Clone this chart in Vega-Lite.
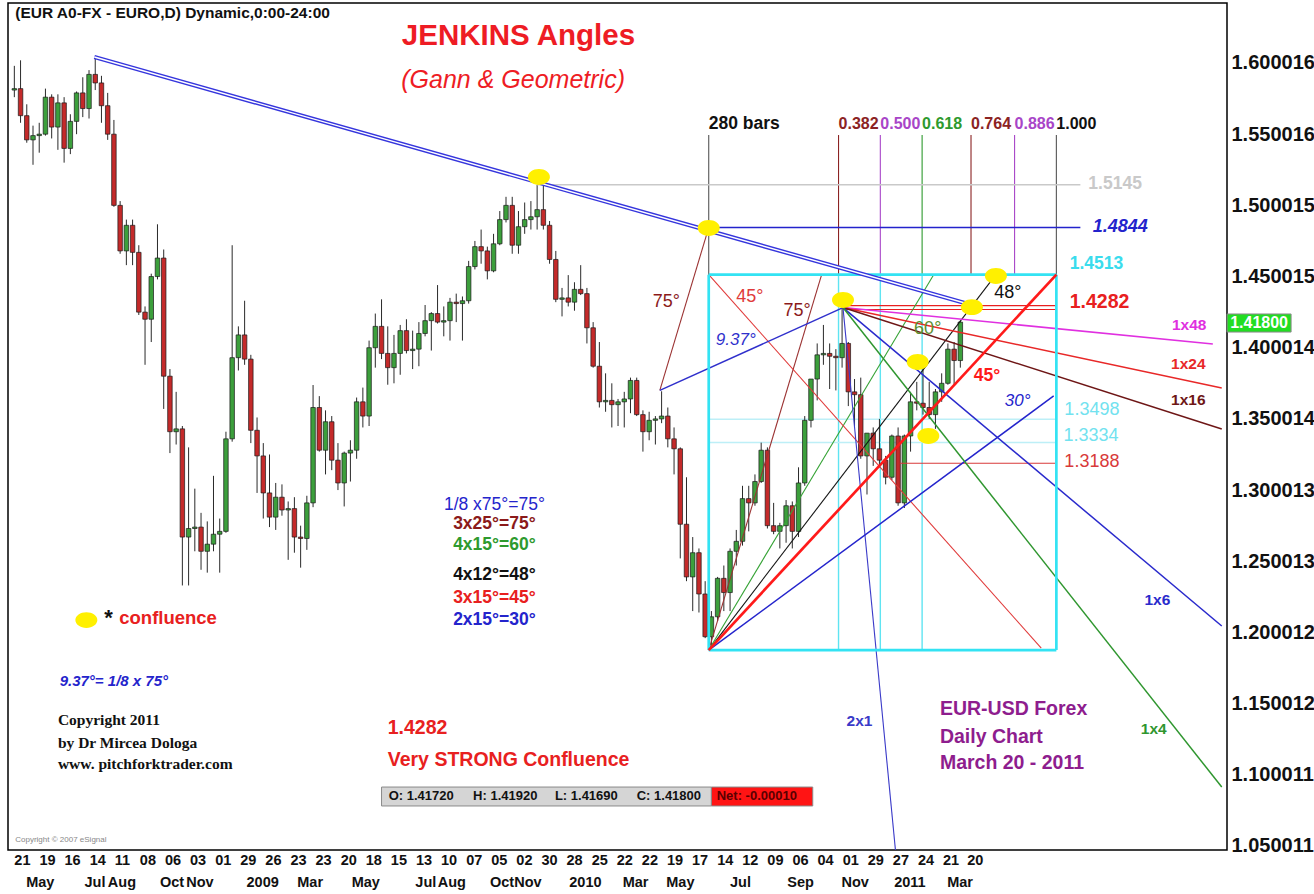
{
  "$schema": "https://vega.github.io/schema/vega-lite/v6.json",
  "width": 1219,
  "height": 847,
  "autosize": {"type": "none"},
  "padding": {"left": 8, "top": 3, "right": 87, "bottom": 44},
  "background": "white",
  "config": {
    "font": "Liberation Sans",
    "view": {"stroke": "#000000", "strokeWidth": 1.5}
  },
  "datasets": {
    "candles": [
      {"d":"2008-04-16","o":1.5810,"h":1.5980,"l":1.5760,"c":1.5820},
      {"d":"2008-04-23","o":1.5820,"h":1.6019,"l":1.5580,"c":1.5630},
      {"d":"2008-04-30","o":1.5630,"h":1.5710,"l":1.5440,"c":1.5460},
      {"d":"2008-05-07","o":1.5460,"h":1.5560,"l":1.5285,"c":1.5490},
      {"d":"2008-05-14","o":1.5490,"h":1.5580,"l":1.5370,"c":1.5500},
      {"d":"2008-05-21","o":1.5500,"h":1.5820,"l":1.5490,"c":1.5760},
      {"d":"2008-05-28","o":1.5760,"h":1.5780,"l":1.5470,"c":1.5550},
      {"d":"2008-06-04","o":1.5550,"h":1.5780,"l":1.5390,"c":1.5720},
      {"d":"2008-06-11","o":1.5720,"h":1.5760,"l":1.5300,"c":1.5400},
      {"d":"2008-06-18","o":1.5400,"h":1.5640,"l":1.5360,"c":1.5590},
      {"d":"2008-06-25","o":1.5590,"h":1.5800,"l":1.5500,"c":1.5790},
      {"d":"2008-07-02","o":1.5790,"h":1.5900,"l":1.5620,"c":1.5680},
      {"d":"2008-07-09","o":1.5680,"h":1.5950,"l":1.5610,"c":1.5920},
      {"d":"2008-07-16","o":1.5920,"h":1.6038,"l":1.5810,"c":1.5860},
      {"d":"2008-07-23","o":1.5860,"h":1.5910,"l":1.5580,"c":1.5700},
      {"d":"2008-07-30","o":1.5700,"h":1.5790,"l":1.5460,"c":1.5500},
      {"d":"2008-08-06","o":1.5500,"h":1.5600,"l":1.4990,"c":1.5000},
      {"d":"2008-08-13","o":1.5000,"h":1.5030,"l":1.4660,"c":1.4680},
      {"d":"2008-08-20","o":1.4680,"h":1.4900,"l":1.4580,"c":1.4860},
      {"d":"2008-08-27","o":1.4860,"h":1.4900,"l":1.4580,"c":1.4670},
      {"d":"2008-09-03","o":1.4670,"h":1.4720,"l":1.4230,"c":1.4250},
      {"d":"2008-09-10","o":1.4250,"h":1.4290,"l":1.3880,"c":1.4200},
      {"d":"2008-09-17","o":1.4200,"h":1.4520,"l":1.4040,"c":1.4500},
      {"d":"2008-09-24","o":1.4500,"h":1.4867,"l":1.4480,"c":1.4630},
      {"d":"2008-10-01","o":1.4630,"h":1.4690,"l":1.3570,"c":1.3800},
      {"d":"2008-10-08","o":1.3800,"h":1.3850,"l":1.3260,"c":1.3410},
      {"d":"2008-10-15","o":1.3410,"h":1.3690,"l":1.3320,"c":1.3430},
      {"d":"2008-10-22","o":1.3430,"h":1.3450,"l":1.2330,"c":1.2670},
      {"d":"2008-10-29","o":1.2670,"h":1.3300,"l":1.2330,"c":1.2730},
      {"d":"2008-11-05","o":1.2730,"h":1.3010,"l":1.2570,"c":1.2740},
      {"d":"2008-11-12","o":1.2740,"h":1.2840,"l":1.2440,"c":1.2570},
      {"d":"2008-11-19","o":1.2570,"h":1.2780,"l":1.2420,"c":1.2620},
      {"d":"2008-11-26","o":1.2620,"h":1.3100,"l":1.2570,"c":1.2690},
      {"d":"2008-12-03","o":1.2690,"h":1.2800,"l":1.2420,"c":1.2710},
      {"d":"2008-12-10","o":1.2710,"h":1.3410,"l":1.2700,"c":1.3360},
      {"d":"2008-12-17","o":1.3360,"h":1.4720,"l":1.3340,"c":1.3930},
      {"d":"2008-12-24","o":1.3930,"h":1.4150,"l":1.3840,"c":1.4090},
      {"d":"2008-12-31","o":1.4090,"h":1.4330,"l":1.3880,"c":1.3920},
      {"d":"2009-01-07","o":1.3920,"h":1.3950,"l":1.3330,"c":1.3420},
      {"d":"2009-01-14","o":1.3420,"h":1.3510,"l":1.2980,"c":1.3240},
      {"d":"2009-01-21","o":1.3240,"h":1.3330,"l":1.2800,"c":1.2980},
      {"d":"2009-01-28","o":1.2980,"h":1.3250,"l":1.2740,"c":1.2810},
      {"d":"2009-02-04","o":1.2810,"h":1.3050,"l":1.2720,"c":1.2950},
      {"d":"2009-02-11","o":1.2950,"h":1.3040,"l":1.2820,"c":1.2860},
      {"d":"2009-02-18","o":1.2860,"h":1.2920,"l":1.2510,"c":1.2870},
      {"d":"2009-02-25","o":1.2870,"h":1.2950,"l":1.2560,"c":1.2670},
      {"d":"2009-03-04","o":1.2670,"h":1.2750,"l":1.2455,"c":1.2660},
      {"d":"2009-03-11","o":1.2660,"h":1.2960,"l":1.2580,"c":1.2910},
      {"d":"2009-03-18","o":1.2910,"h":1.3738,"l":1.2880,"c":1.3580},
      {"d":"2009-03-25","o":1.3580,"h":1.3660,"l":1.3270,"c":1.3280},
      {"d":"2009-04-01","o":1.3280,"h":1.3560,"l":1.3110,"c":1.3480},
      {"d":"2009-04-08","o":1.3480,"h":1.3520,"l":1.3140,"c":1.3210},
      {"d":"2009-04-15","o":1.3210,"h":1.3330,"l":1.3000,"c":1.3050},
      {"d":"2009-04-22","o":1.3050,"h":1.3270,"l":1.2885,"c":1.3260},
      {"d":"2009-04-29","o":1.3260,"h":1.3350,"l":1.3060,"c":1.3280},
      {"d":"2009-05-06","o":1.3280,"h":1.3650,"l":1.3220,"c":1.3620},
      {"d":"2009-05-13","o":1.3620,"h":1.3720,"l":1.3440,"c":1.3520},
      {"d":"2009-05-20","o":1.3520,"h":1.4050,"l":1.3450,"c":1.4000},
      {"d":"2009-05-27","o":1.4000,"h":1.4240,"l":1.3860,"c":1.4150},
      {"d":"2009-06-03","o":1.4150,"h":1.4340,"l":1.3920,"c":1.3960},
      {"d":"2009-06-10","o":1.3960,"h":1.4150,"l":1.3740,"c":1.3860},
      {"d":"2009-06-17","o":1.3860,"h":1.4090,"l":1.3750,"c":1.3960},
      {"d":"2009-06-24","o":1.3960,"h":1.4160,"l":1.3810,"c":1.4120},
      {"d":"2009-07-01","o":1.4120,"h":1.4200,"l":1.3960,"c":1.3980},
      {"d":"2009-07-08","o":1.3980,"h":1.4120,"l":1.3850,"c":1.3990},
      {"d":"2009-07-15","o":1.3990,"h":1.4180,"l":1.3870,"c":1.4100},
      {"d":"2009-07-22","o":1.4100,"h":1.4300,"l":1.4080,"c":1.4190},
      {"d":"2009-07-29","o":1.4190,"h":1.4250,"l":1.3980,"c":1.4240},
      {"d":"2009-08-05","o":1.4240,"h":1.4440,"l":1.4170,"c":1.4180},
      {"d":"2009-08-12","o":1.4180,"h":1.4290,"l":1.4080,"c":1.4190},
      {"d":"2009-08-19","o":1.4190,"h":1.4350,"l":1.4050,"c":1.4320},
      {"d":"2009-08-26","o":1.4320,"h":1.4380,"l":1.4180,"c":1.4310},
      {"d":"2009-09-02","o":1.4310,"h":1.4360,"l":1.4050,"c":1.4330},
      {"d":"2009-09-09","o":1.4330,"h":1.4610,"l":1.4310,"c":1.4570},
      {"d":"2009-09-16","o":1.4570,"h":1.4750,"l":1.4550,"c":1.4710},
      {"d":"2009-09-23","o":1.4710,"h":1.4830,"l":1.4590,"c":1.4680},
      {"d":"2009-09-30","o":1.4680,"h":1.4710,"l":1.4480,"c":1.4540},
      {"d":"2009-10-07","o":1.4540,"h":1.4800,"l":1.4530,"c":1.4730},
      {"d":"2009-10-14","o":1.4730,"h":1.4960,"l":1.4720,"c":1.4900},
      {"d":"2009-10-21","o":1.4900,"h":1.5060,"l":1.4880,"c":1.5000},
      {"d":"2009-10-28","o":1.5000,"h":1.5060,"l":1.4660,"c":1.4720},
      {"d":"2009-11-04","o":1.4720,"h":1.4960,"l":1.4660,"c":1.4850},
      {"d":"2009-11-11","o":1.4850,"h":1.5020,"l":1.4800,"c":1.4900},
      {"d":"2009-11-18","o":1.4900,"h":1.5030,"l":1.4830,"c":1.4920},
      {"d":"2009-11-25","o":1.4920,"h":1.5144,"l":1.4830,"c":1.4970},
      {"d":"2009-12-02","o":1.4970,"h":1.5140,"l":1.4830,"c":1.4860},
      {"d":"2009-12-09","o":1.4860,"h":1.4890,"l":1.4590,"c":1.4620},
      {"d":"2009-12-16","o":1.4620,"h":1.4680,"l":1.4320,"c":1.4340},
      {"d":"2009-12-23","o":1.4340,"h":1.4420,"l":1.4220,"c":1.4350},
      {"d":"2009-12-30","o":1.4350,"h":1.4510,"l":1.4290,"c":1.4320},
      {"d":"2010-01-06","o":1.4320,"h":1.4460,"l":1.4260,"c":1.4410},
      {"d":"2010-01-13","o":1.4410,"h":1.4580,"l":1.4370,"c":1.4380},
      {"d":"2010-01-20","o":1.4380,"h":1.4420,"l":1.4030,"c":1.4140},
      {"d":"2010-01-27","o":1.4140,"h":1.4180,"l":1.3860,"c":1.3870},
      {"d":"2010-02-03","o":1.3870,"h":1.4040,"l":1.3580,"c":1.3620},
      {"d":"2010-02-10","o":1.3620,"h":1.3820,"l":1.3550,"c":1.3630},
      {"d":"2010-02-17","o":1.3630,"h":1.3750,"l":1.3440,"c":1.3600},
      {"d":"2010-02-24","o":1.3600,"h":1.3640,"l":1.3450,"c":1.3620},
      {"d":"2010-03-03","o":1.3620,"h":1.3690,"l":1.3440,"c":1.3640},
      {"d":"2010-03-10","o":1.3640,"h":1.3790,"l":1.3540,"c":1.3770},
      {"d":"2010-03-17","o":1.3770,"h":1.3790,"l":1.3520,"c":1.3530},
      {"d":"2010-03-24","o":1.3530,"h":1.3560,"l":1.3270,"c":1.3410},
      {"d":"2010-03-31","o":1.3410,"h":1.3550,"l":1.3350,"c":1.3490},
      {"d":"2010-04-07","o":1.3490,"h":1.3520,"l":1.3320,"c":1.3500},
      {"d":"2010-04-14","o":1.3500,"h":1.3694,"l":1.3470,"c":1.3520},
      {"d":"2010-04-21","o":1.3520,"h":1.3580,"l":1.3300,"c":1.3360},
      {"d":"2010-04-28","o":1.3360,"h":1.3440,"l":1.3110,"c":1.3290},
      {"d":"2010-05-05","o":1.3290,"h":1.3300,"l":1.2520,"c":1.2760},
      {"d":"2010-05-12","o":1.2760,"h":1.3090,"l":1.2360,"c":1.2390},
      {"d":"2010-05-19","o":1.2390,"h":1.2670,"l":1.2150,"c":1.2560},
      {"d":"2010-05-26","o":1.2560,"h":1.2590,"l":1.2140,"c":1.2270},
      {"d":"2010-06-02","o":1.2270,"h":1.2360,"l":1.1960,"c":1.1970},
      {"d":"2010-06-09","o":1.1970,"h":1.2150,"l":1.1876,"c":1.2110},
      {"d":"2010-06-16","o":1.2110,"h":1.2390,"l":1.2080,"c":1.2380},
      {"d":"2010-06-23","o":1.2380,"h":1.2470,"l":1.2150,"c":1.2280},
      {"d":"2010-06-30","o":1.2280,"h":1.2590,"l":1.2150,"c":1.2570},
      {"d":"2010-07-07","o":1.2570,"h":1.2720,"l":1.2470,"c":1.2640},
      {"d":"2010-07-14","o":1.2640,"h":1.3030,"l":1.2610,"c":1.2940},
      {"d":"2010-07-21","o":1.2940,"h":1.3030,"l":1.2710,"c":1.2910},
      {"d":"2010-07-28","o":1.2910,"h":1.3110,"l":1.2890,"c":1.3060},
      {"d":"2010-08-04","o":1.3060,"h":1.3333,"l":1.3050,"c":1.3280},
      {"d":"2010-08-11","o":1.3280,"h":1.3300,"l":1.2730,"c":1.2750},
      {"d":"2010-08-18","o":1.2750,"h":1.2910,"l":1.2690,"c":1.2710},
      {"d":"2010-08-25","o":1.2710,"h":1.2770,"l":1.2590,"c":1.2750},
      {"d":"2010-09-01","o":1.2750,"h":1.2930,"l":1.2630,"c":1.2890},
      {"d":"2010-09-08","o":1.2890,"h":1.2920,"l":1.2590,"c":1.2710},
      {"d":"2010-09-15","o":1.2710,"h":1.3160,"l":1.2670,"c":1.3050},
      {"d":"2010-09-22","o":1.3050,"h":1.3520,"l":1.3030,"c":1.3490},
      {"d":"2010-09-29","o":1.3490,"h":1.3780,"l":1.3440,"c":1.3780},
      {"d":"2010-10-06","o":1.3780,"h":1.4030,"l":1.3630,"c":1.3950},
      {"d":"2010-10-13","o":1.3950,"h":1.4160,"l":1.3880,"c":1.3960},
      {"d":"2010-10-20","o":1.3960,"h":1.4030,"l":1.3710,"c":1.3940},
      {"d":"2010-10-27","o":1.3940,"h":1.3990,"l":1.3700,"c":1.3930},
      {"d":"2010-11-03","o":1.3930,"h":1.4282,"l":1.3860,"c":1.4030},
      {"d":"2010-11-10","o":1.4030,"h":1.4040,"l":1.3590,"c":1.3690},
      {"d":"2010-11-17","o":1.3690,"h":1.3780,"l":1.3450,"c":1.3670},
      {"d":"2010-11-24","o":1.3670,"h":1.3790,"l":1.3220,"c":1.3240},
      {"d":"2010-12-01","o":1.3240,"h":1.3400,"l":1.2969,"c":1.3400},
      {"d":"2010-12-08","o":1.3400,"h":1.3440,"l":1.3170,"c":1.3290},
      {"d":"2010-12-15","o":1.3290,"h":1.3500,"l":1.3160,"c":1.3210},
      {"d":"2010-12-22","o":1.3210,"h":1.3240,"l":1.3040,"c":1.3090},
      {"d":"2010-12-29","o":1.3090,"h":1.3390,"l":1.3070,"c":1.3380},
      {"d":"2011-01-05","o":1.3380,"h":1.3440,"l":1.2890,"c":1.2910},
      {"d":"2011-01-12","o":1.2910,"h":1.3390,"l":1.2874,"c":1.3380},
      {"d":"2011-01-19","o":1.3380,"h":1.3690,"l":1.3270,"c":1.3620},
      {"d":"2011-01-26","o":1.3620,"h":1.3760,"l":1.3560,"c":1.3610},
      {"d":"2011-02-02","o":1.3610,"h":1.3860,"l":1.3530,"c":1.3580},
      {"d":"2011-02-09","o":1.3580,"h":1.3760,"l":1.3500,"c":1.3530},
      {"d":"2011-02-16","o":1.3530,"h":1.3710,"l":1.3430,"c":1.3690},
      {"d":"2011-02-23","o":1.3690,"h":1.3820,"l":1.3620,"c":1.3750},
      {"d":"2011-03-02","o":1.3750,"h":1.4030,"l":1.3740,"c":1.3990},
      {"d":"2011-03-09","o":1.3990,"h":1.4040,"l":1.3740,"c":1.3910},
      {"d":"2011-03-16","o":1.3910,"h":1.4190,"l":1.3860,"c":1.4180}
    ],
    "rulesUnder": [
      {"d":"2010-10-30","p":1.1876,"d2":"2010-10-30","p2":1.4513,"k":"boxfib"},
      {"d":"2010-12-16","p":1.1876,"d2":"2010-12-16","p2":1.4513,"k":"boxfib"},
      {"d":"2011-02-01","p":1.1876,"d2":"2011-02-01","p2":1.4513,"k":"boxfib"},
      {"d":"2010-06-06","p":1.3498,"d2":"2011-07-02","p2":1.3498,"k":"lvlcyan"},
      {"d":"2010-06-06","p":1.3334,"d2":"2011-07-02","p2":1.3334,"k":"lvlcyan"}
    ],
    "rulesThin": [
      {"d":"2010-06-06","p":1.5494,"d2":"2010-06-06","p2":1.4513,"k":"bars280"},
      {"d":"2010-10-30","p":1.5494,"d2":"2010-10-30","p2":1.4513,"k":"fib382"},
      {"d":"2010-12-16","p":1.5494,"d2":"2010-12-16","p2":1.4513,"k":"fib500"},
      {"d":"2011-02-01","p":1.5494,"d2":"2011-02-01","p2":1.4513,"k":"fib618"},
      {"d":"2011-03-28","p":1.5494,"d2":"2011-03-28","p2":1.4513,"k":"fib764"},
      {"d":"2011-05-16","p":1.5494,"d2":"2011-05-16","p2":1.4513,"k":"fib886"},
      {"d":"2011-07-02","p":1.5494,"d2":"2011-07-02","p2":1.4513,"k":"fib1000"},
      {"d":"2010-11-04","p":1.4296,"d2":"2011-07-02","p2":1.4296,"k":"lvl4282"},
      {"d":"2010-11-04","p":1.4268,"d2":"2011-07-02","p2":1.4268,"k":"lvl4282"},
      {"d":"2011-01-07","p":1.3188,"d2":"2011-07-02","p2":1.3188,"k":"lvl3188"},
      {"d":"2010-06-06","p":1.1876,"d2":"2011-04-25","p2":1.4513,"k":"a48"},
      {"d":"2010-06-06","p":1.1876,"d2":"2011-02-14","p2":1.4513,"k":"a60"},
      {"d":"2010-06-06","p":1.1876,"d2":"2010-10-11","p2":1.4513,"k":"a75"},
      {"d":"2010-06-06","p":1.4513,"d2":"2011-06-15","p2":1.1890,"k":"d45"},
      {"d":"2010-04-12","p":1.3700,"d2":"2010-06-06","p2":1.4844,"k":"a75"},
      {"d":"2010-11-04","p":1.4282,"d2":"2011-01-02","p2":1.04717,"k":"g2x1"}
    ],
    "rulesMed": [
      {"d":"2009-11-25","p":1.5145,"d2":"2011-07-29","p2":1.5145,"k":"lvl5145"},
      {"d":"2010-06-06","p":1.4844,"d2":"2011-07-29","p2":1.4844,"k":"lvl4844"},
      {"d":"2010-06-06","p":1.1876,"d2":"2011-06-29","p2":1.3661,"k":"a30"},
      {"d":"2010-04-12","p":1.3700,"d2":"2010-11-04","p2":1.4282,"k":"a937"},
      {"d":"2010-11-04","p":1.4282,"d2":"2011-12-25","p2":1.4026,"k":"g1x48"},
      {"d":"2010-11-04","p":1.4282,"d2":"2012-01-04","p2":1.3717,"k":"g1x24"},
      {"d":"2010-11-04","p":1.4282,"d2":"2012-01-04","p2":1.3429,"k":"g1x16"},
      {"d":"2010-11-04","p":1.4282,"d2":"2012-01-04","p2":1.2045,"k":"g1x6"},
      {"d":"2010-11-04","p":1.4282,"d2":"2012-01-04","p2":1.0914,"k":"g1x4"}
    ],
    "rulesThick": [
      {"d":"2010-06-06","p":1.1876,"d2":"2011-07-02","p2":1.1876,"k":"box"},
      {"d":"2010-06-06","p":1.4513,"d2":"2011-07-02","p2":1.4513,"k":"box"},
      {"d":"2010-06-06","p":1.1876,"d2":"2010-06-06","p2":1.4513,"k":"box"},
      {"d":"2011-07-02","p":1.1876,"d2":"2011-07-02","p2":1.4513,"k":"box"},
      {"d":"2010-06-06","p":1.1876,"d2":"2011-07-02","p2":1.4513,"k":"a45"}
    ],
    "trend": [
      {"d":"2008-07-15","p":1.6042,"d2":"2011-03-29","p2":1.4300,"k":"trend"}
    ],
    "dots": [
      {"d":"2009-11-27","p":1.5199},
      {"d":"2010-06-06","p":1.4841},
      {"d":"2010-11-04","p":1.4335},
      {"d":"2011-03-29","p":1.4285},
      {"d":"2011-04-25","p":1.4504},
      {"d":"2011-01-27","p":1.3900},
      {"d":"2011-02-08","p":1.3380},
      {"d":"2008-07-06","p":1.2087}
    ],
    "rects": [
      {"d":"2009-06-03","d2":"2010-06-09","p":1.0914,"p2":1.0781,"k":"ohlcBar"},
      {"d":"2010-06-09","d2":"2010-10-01","p":1.0914,"p2":1.0781,"k":"netBar"},
      {"d":"2012-01-10","d2":"2012-03-22","p":1.4237,"p2":1.4110,"k":"priceTag"}
    ],
    "txHeader": [
      {"d":"2008-04-17","p":1.6351,"t":"(EUR A0-FX - EURO,D) Dynamic,0:00-24:00","k":"header"}
    ],
    "txTitle": [
      {"d":"2009-11-04","p":1.6190,"t":"JENKINS Angles","k":"title"}
    ],
    "txSub": [
      {"d":"2009-10-29","p":1.5881,"t":"(Gann & Geometric)","k":"title"}
    ],
    "txFib": [
      {"d":"2010-10-30","p":1.5572,"t":"0.382","k":"fib382"},
      {"d":"2010-12-16","p":1.5572,"t":"0.500","k":"fib500"},
      {"d":"2011-02-01","p":1.5572,"t":"0.618","k":"fib618"},
      {"d":"2011-03-28","p":1.5572,"t":"0.764","k":"fib764"},
      {"d":"2011-05-16","p":1.5572,"t":"0.886","k":"fib886"},
      {"d":"2011-07-02","p":1.5572,"t":"1.000","k":"header"}
    ],
    "txB17": [
      {"d":"2010-06-06","p":1.5572,"t":"280 bars","k":"header"},
      {"d":"2011-08-07","p":1.5147,"t":"1.5145","k":"lvl5145"},
      {"d":"2011-07-17","p":1.4588,"t":"1.4513","k":"labelCyan"},
      {"d":"2011-03-31","p":1.3801,"t":"45°","k":"a45"}
    ],
    "txBI18": [
      {"d":"2011-08-12","p":1.4850,"t":"1.4844","k":"lvl4844"}
    ],
    "txB19": [
      {"d":"2011-07-17","p":1.4321,"t":"1.4282","k":"lvl4282"},
      {"d":"2009-06-10","p":1.1329,"t":"1.4282","k":"lvl4282"},
      {"d":"2009-06-10","p":1.1104,"t":"Very STRONG Confluence","k":"lvl4282"},
      {"d":"2011-02-21","p":1.1459,"t":"EUR-USD Forex","k":"purple"},
      {"d":"2011-02-21","p":1.1265,"t":"Daily Chart","k":"purple"},
      {"d":"2011-02-21","p":1.1083,"t":"March 20 - 2011","k":"purple"}
    ],
    "txB15": [
      {"d":"2011-11-09","p":1.4160,"t":"1x48","k":"g1x48"},
      {"d":"2011-11-08","p":1.3889,"t":"1x24","k":"g1x24"},
      {"d":"2011-11-08","p":1.3633,"t":"1x16","k":"g1x16"},
      {"d":"2011-10-09","p":1.2228,"t":"1x6","k":"g1x6"},
      {"d":"2011-10-05","p":1.1322,"t":"1x4","k":"g1x4"},
      {"d":"2010-11-08","p":1.1378,"t":"2x1","k":"g2x1"}
    ],
    "txN18": [
      {"d":"2011-07-11","p":1.3566,"t":"1.3498","k":"labelCyanLight"},
      {"d":"2011-07-10","p":1.3383,"t":"1.3334","k":"labelCyanLight"},
      {"d":"2011-07-11","p":1.3194,"t":"1.3188","k":"lvl3188"},
      {"d":"2011-04-23","p":1.4384,"t":"48°","k":"header"},
      {"d":"2011-01-23","p":1.4131,"t":"60°","k":"labelOlive"},
      {"d":"2010-04-04","p":1.4321,"t":"75°","k":"labelBrown"},
      {"d":"2010-08-29","p":1.4258,"t":"75°","k":"labelBrown"},
      {"d":"2010-07-07","p":1.4356,"t":"45°","k":"d45"}
    ],
    "txI17": [
      {"d":"2011-05-05","p":1.3626,"t":"30°","k":"a30"},
      {"d":"2010-06-14","p":1.4054,"t":"9.37°","k":"a937"}
    ],
    "txConf": [
      {"d":"2008-08-12","p":1.2101,"t":"confluence","k":"lvl4282"}
    ],
    "txStar": [
      {"d":"2008-07-26","p":1.2101,"t":"*","k":"header"}
    ],
    "txBI15": [
      {"d":"2008-06-06","p":1.1659,"t":"9.37°= 1/8 x 75°","k":"a30"}
    ],
    "txSerif": [
      {"d":"2008-06-04","p":1.1385,"t":"Copyright 2011","k":"header"},
      {"d":"2008-06-04","p":1.1223,"t":"by Dr Mircea Dologa","k":"header"},
      {"d":"2008-06-04","p":1.1076,"t":"www. pitchforktrader.com","k":"header"}
    ],
    "txListN": [
      {"d":"2009-10-08","p":1.2895,"t":"1/8 x75°=75°","k":"a30"}
    ],
    "txListB": [
      {"d":"2009-10-08","p":1.2762,"t":"3x25°=75°","k":"labelBrown"},
      {"d":"2009-10-08","p":1.2614,"t":"4x15°=60°","k":"fib618"},
      {"d":"2009-10-08","p":1.2404,"t":"4x12°=48°","k":"header"},
      {"d":"2009-10-08","p":1.2242,"t":"3x15°=45°","k":"lvl4282"},
      {"d":"2009-10-08","p":1.2087,"t":"2x15°=30°","k":"a30"}
    ],
    "txOhlc": [
      {"d":"2009-06-11","p":1.0851,"t":"O: 1.41720","k":"header"},
      {"d":"2009-09-14","p":1.0851,"t":"H: 1.41920","k":"header"},
      {"d":"2009-12-15","p":1.0851,"t":"L: 1.41690","k":"header"},
      {"d":"2010-03-17","p":1.0851,"t":"C: 1.41800","k":"header"},
      {"d":"2010-06-15","p":1.0851,"t":"Net: -0.00010","k":"netText"}
    ],
    "txTiny": [
      {"d":"2008-04-17","p":1.0542,"t":"Copyright © 2007 eSignal","k":"labelGray2"}
    ],
    "txTag": [
      {"d":"2012-02-15","p":1.4173,"t":"1.41800","k":"white"}
    ]
  },
  "resolve": {"scale": {"x": "independent"}, "axis": {"x": "independent"}},
  "layer": [
    {
      "layer": [
        {
          "data": {"name": "rulesUnder"},
          "mark": {"type": "rule", "strokeWidth": 1.4, "clip": true},
          "encoding": {
            "x": {
              "field": "d", "type": "temporal",
              "scale": {"type": "utc", "domain": [{"year":2008,"month":4,"date":14,"hours":12,"utc":true},{"year":2012,"month":1,"date":4,"hours":7,"utc":true}]},
              "axis": {"orient": "bottom", "title": null, "domain": false, "ticks": false, "grid": false, "labels": false}
            },
            "x2": {"field": "d2"},
            "y": {
              "field": "p", "type": "quantitative",
              "scale": {"domain": [1.04717, 1.64215], "nice": false, "zero": false},
              "axis": {
                "orient": "right", "title": null, "domain": false, "ticks": false, "grid": false,
                "values": [1.050011,1.100011,1.150012,1.200012,1.250013,1.300013,1.350014,1.400014,1.450015,1.500015,1.550016,1.600016],
                "format": ".6f", "labelFontSize": 20, "labelFontWeight": "bold", "labelColor": "#111111",
                "labelFont": "Liberation Sans", "labelPadding": 4,
                "labelFlush": false, "labelOverlap": false, "labelBound": false
              }
            },
            "y2": {"field": "p2"},
            "color": {
              "field": "k", "type": "nominal", "legend": null,
              "scale": {
                "domain": ["trend","lvl5145","lvl4844","bars280","fib382","fib500","fib618","fib764","fib886","fib1000","box","boxfib","lvlcyan","lvl4282","lvl3188","a45","a48","a60","a30","a75","d45","a937","g1x48","g1x24","g1x16","g1x6","g1x4","g2x1","header","title","labelCyan","labelCyanLight","labelOlive","labelBrown","purple","netText","white","labelGray2","ohlcBar","netBar","priceTag"],
                "range": ["#3535dd","#c9c9c9","#2323cc","#555555","#8b2323","#a845c8","#2e9a2e","#8b2323","#a845c8","#555555","#33e3f3","#5fe4f2","#bdeff7","#e82020","#d83a3a","#ff1a1a","#151515","#36a336","#2424cc","#9b3333","#e03a3a","#3030cc","#e030e0","#e82828","#6e1616","#2a2acc","#2f962f","#3a3ac8","#111111","#ee1c24","#3adced","#72e2ef","#5d8f2f","#8b1a1a","#8e1d8e","#5a0000","#ffffff","#888888","#d5d5d5","#ff1414","#22dd22"]
              }
            }
          }
        },
        {
          "data": {"name": "candles"},
          "mark": {"type": "rule", "color": "#2a2a2a", "strokeWidth": 1, "clip": true},
          "encoding": {
            "x": {"field": "d", "type": "temporal"},
            "y": {"field": "l", "type": "quantitative"},
            "y2": {"field": "h"}
          }
        },
        {
          "data": {"name": "candles"},
          "mark": {"type": "bar", "width": 4.5, "stroke": "#1a1a1a", "strokeWidth": 0.7, "clip": true},
          "encoding": {
            "x": {"field": "d", "type": "temporal"},
            "y": {"field": "o", "type": "quantitative"},
            "y2": {"field": "c"},
            "color": {"condition": {"test": "datum.o < datum.c", "value": "#3c9f3c"}, "value": "#c42a2a"}
          }
        },
        {
          "data": {"name": "rulesThin"},
          "mark": {"type": "rule", "strokeWidth": 1.1, "clip": true},
          "encoding": {
            "x": {"field": "d", "type": "temporal"}, "x2": {"field": "d2"},
            "y": {"field": "p", "type": "quantitative"}, "y2": {"field": "p2"},
            "color": {"field": "k", "type": "nominal", "legend": null}
          }
        },
        {
          "data": {"name": "rulesMed"},
          "mark": {"type": "rule", "strokeWidth": 1.5, "clip": true},
          "encoding": {
            "x": {"field": "d", "type": "temporal"}, "x2": {"field": "d2"},
            "y": {"field": "p", "type": "quantitative"}, "y2": {"field": "p2"},
            "color": {"field": "k", "type": "nominal", "legend": null}
          }
        },
        {
          "data": {"name": "rulesThick"},
          "mark": {"type": "rule", "strokeWidth": 2.7, "clip": true},
          "encoding": {
            "x": {"field": "d", "type": "temporal"}, "x2": {"field": "d2"},
            "y": {"field": "p", "type": "quantitative"}, "y2": {"field": "p2"},
            "color": {"field": "k", "type": "nominal", "legend": null}
          }
        },
        {
          "data": {"name": "trend"},
          "mark": {"type": "rule", "strokeWidth": 4.2, "clip": true},
          "encoding": {
            "x": {"field": "d", "type": "temporal"}, "x2": {"field": "d2"},
            "y": {"field": "p", "type": "quantitative"}, "y2": {"field": "p2"},
            "color": {"field": "k", "type": "nominal", "legend": null}
          }
        },
        {
          "data": {"name": "trend"},
          "mark": {"type": "rule", "strokeWidth": 1.4, "color": "#ffffff", "clip": true},
          "encoding": {
            "x": {"field": "d", "type": "temporal"}, "x2": {"field": "d2"},
            "y": {"field": "p", "type": "quantitative"}, "y2": {"field": "p2"}
          }
        },
        {
          "data": {"name": "dots"},
          "mark": {"type": "point", "shape": "M-1,0A1,0.72,0,1,1,1,0A1,0.72,0,1,1,-1,0Z", "size": 484, "filled": true, "color": "#fff000", "opacity": 1},
          "encoding": {
            "x": {"field": "d", "type": "temporal"},
            "y": {"field": "p", "type": "quantitative"}
          }
        },
        {
          "data": {"name": "rects"},
          "mark": {"type": "rect", "stroke": "#8a8a8a", "strokeWidth": 1},
          "encoding": {
            "x": {"field": "d", "type": "temporal"}, "x2": {"field": "d2"},
            "y": {"field": "p", "type": "quantitative"}, "y2": {"field": "p2"},
            "color": {"field": "k", "type": "nominal", "legend": null}
          }
        },
        {
          "data": {"name": "txHeader"},
          "mark": {"type": "text", "align": "left", "baseline": "middle", "font": "Liberation Sans", "fontSize": 15.5, "fontWeight": "bold"},
          "encoding": {"x": {"field": "d", "type": "temporal"}, "y": {"field": "p", "type": "quantitative"}, "text": {"field": "t"}, "color": {"field": "k", "type": "nominal", "legend": null}}
        },
        {
          "data": {"name": "txTitle"},
          "mark": {"type": "text", "align": "center", "baseline": "middle", "font": "Liberation Sans", "fontSize": 29.5, "fontWeight": "bold"},
          "encoding": {"x": {"field": "d", "type": "temporal"}, "y": {"field": "p", "type": "quantitative"}, "text": {"field": "t"}, "color": {"field": "k", "type": "nominal", "legend": null}}
        },
        {
          "data": {"name": "txSub"},
          "mark": {"type": "text", "align": "center", "baseline": "middle", "font": "Liberation Sans", "fontSize": 25, "fontStyle": "italic"},
          "encoding": {"x": {"field": "d", "type": "temporal"}, "y": {"field": "p", "type": "quantitative"}, "text": {"field": "t"}, "color": {"field": "k", "type": "nominal", "legend": null}}
        },
        {
          "data": {"name": "txFib"},
          "mark": {"type": "text", "align": "left", "baseline": "middle", "font": "Liberation Sans", "fontSize": 16, "fontWeight": "bold"},
          "encoding": {"x": {"field": "d", "type": "temporal"}, "y": {"field": "p", "type": "quantitative"}, "text": {"field": "t"}, "color": {"field": "k", "type": "nominal", "legend": null}}
        },
        {
          "data": {"name": "txB17"},
          "mark": {"type": "text", "align": "left", "baseline": "middle", "font": "Liberation Sans", "fontSize": 17.5, "fontWeight": "bold"},
          "encoding": {"x": {"field": "d", "type": "temporal"}, "y": {"field": "p", "type": "quantitative"}, "text": {"field": "t"}, "color": {"field": "k", "type": "nominal", "legend": null}}
        },
        {
          "data": {"name": "txBI18"},
          "mark": {"type": "text", "align": "left", "baseline": "middle", "font": "Liberation Sans", "fontSize": 18, "fontWeight": "bold", "fontStyle": "italic"},
          "encoding": {"x": {"field": "d", "type": "temporal"}, "y": {"field": "p", "type": "quantitative"}, "text": {"field": "t"}, "color": {"field": "k", "type": "nominal", "legend": null}}
        },
        {
          "data": {"name": "txB19"},
          "mark": {"type": "text", "align": "left", "baseline": "middle", "font": "Liberation Sans", "fontSize": 19.5, "fontWeight": "bold"},
          "encoding": {"x": {"field": "d", "type": "temporal"}, "y": {"field": "p", "type": "quantitative"}, "text": {"field": "t"}, "color": {"field": "k", "type": "nominal", "legend": null}}
        },
        {
          "data": {"name": "txB15"},
          "mark": {"type": "text", "align": "left", "baseline": "middle", "font": "Liberation Sans", "fontSize": 15.5, "fontWeight": "bold"},
          "encoding": {"x": {"field": "d", "type": "temporal"}, "y": {"field": "p", "type": "quantitative"}, "text": {"field": "t"}, "color": {"field": "k", "type": "nominal", "legend": null}}
        },
        {
          "data": {"name": "txN18"},
          "mark": {"type": "text", "align": "left", "baseline": "middle", "font": "Liberation Sans", "fontSize": 18},
          "encoding": {"x": {"field": "d", "type": "temporal"}, "y": {"field": "p", "type": "quantitative"}, "text": {"field": "t"}, "color": {"field": "k", "type": "nominal", "legend": null}}
        },
        {
          "data": {"name": "txI17"},
          "mark": {"type": "text", "align": "left", "baseline": "middle", "font": "Liberation Sans", "fontSize": 17, "fontStyle": "italic"},
          "encoding": {"x": {"field": "d", "type": "temporal"}, "y": {"field": "p", "type": "quantitative"}, "text": {"field": "t"}, "color": {"field": "k", "type": "nominal", "legend": null}}
        },
        {
          "data": {"name": "txConf"},
          "mark": {"type": "text", "align": "left", "baseline": "middle", "font": "Liberation Sans", "fontSize": 18.5, "fontWeight": "bold"},
          "encoding": {"x": {"field": "d", "type": "temporal"}, "y": {"field": "p", "type": "quantitative"}, "text": {"field": "t"}, "color": {"field": "k", "type": "nominal", "legend": null}}
        },
        {
          "data": {"name": "txStar"},
          "mark": {"type": "text", "align": "left", "baseline": "middle", "font": "Liberation Sans", "fontSize": 22, "fontWeight": "bold"},
          "encoding": {"x": {"field": "d", "type": "temporal"}, "y": {"field": "p", "type": "quantitative"}, "text": {"field": "t"}, "color": {"field": "k", "type": "nominal", "legend": null}}
        },
        {
          "data": {"name": "txBI15"},
          "mark": {"type": "text", "align": "left", "baseline": "middle", "font": "Liberation Sans", "fontSize": 15, "fontWeight": "bold", "fontStyle": "italic"},
          "encoding": {"x": {"field": "d", "type": "temporal"}, "y": {"field": "p", "type": "quantitative"}, "text": {"field": "t"}, "color": {"field": "k", "type": "nominal", "legend": null}}
        },
        {
          "data": {"name": "txSerif"},
          "mark": {"type": "text", "align": "left", "baseline": "middle", "font": "Liberation Serif", "fontSize": 15.5, "fontWeight": "bold"},
          "encoding": {"x": {"field": "d", "type": "temporal"}, "y": {"field": "p", "type": "quantitative"}, "text": {"field": "t"}, "color": {"field": "k", "type": "nominal", "legend": null}}
        },
        {
          "data": {"name": "txListN"},
          "mark": {"type": "text", "align": "center", "baseline": "middle", "font": "Liberation Sans", "fontSize": 17.5},
          "encoding": {"x": {"field": "d", "type": "temporal"}, "y": {"field": "p", "type": "quantitative"}, "text": {"field": "t"}, "color": {"field": "k", "type": "nominal", "legend": null}}
        },
        {
          "data": {"name": "txListB"},
          "mark": {"type": "text", "align": "center", "baseline": "middle", "font": "Liberation Sans", "fontSize": 17.5, "fontWeight": "bold"},
          "encoding": {"x": {"field": "d", "type": "temporal"}, "y": {"field": "p", "type": "quantitative"}, "text": {"field": "t"}, "color": {"field": "k", "type": "nominal", "legend": null}}
        },
        {
          "data": {"name": "txOhlc"},
          "mark": {"type": "text", "align": "left", "baseline": "middle", "font": "Liberation Sans", "fontSize": 13, "fontWeight": "bold"},
          "encoding": {"x": {"field": "d", "type": "temporal"}, "y": {"field": "p", "type": "quantitative"}, "text": {"field": "t"}, "color": {"field": "k", "type": "nominal", "legend": null}}
        },
        {
          "data": {"name": "txTiny"},
          "mark": {"type": "text", "align": "left", "baseline": "middle", "font": "Liberation Sans", "fontSize": 8},
          "encoding": {"x": {"field": "d", "type": "temporal"}, "y": {"field": "p", "type": "quantitative"}, "text": {"field": "t"}, "color": {"field": "k", "type": "nominal", "legend": null}}
        },
        {
          "data": {"name": "txTag"},
          "mark": {"type": "text", "align": "center", "baseline": "middle", "font": "Liberation Sans", "fontSize": 16, "fontWeight": "bold"},
          "encoding": {"x": {"field": "d", "type": "temporal"}, "y": {"field": "p", "type": "quantitative"}, "text": {"field": "t"}, "color": {"field": "k", "type": "nominal", "legend": null}}
        }
      ]
    },
    {
      "data": {"name": "candles"},
      "mark": {"type": "point", "opacity": 0},
      "encoding": {
        "x": {
          "field": "d", "type": "temporal",
          "scale": {"type": "utc", "domain": [{"year":2008,"month":4,"date":14,"hours":12,"utc":true},{"year":2012,"month":1,"date":4,"hours":7,"utc":true}]},
          "axis": {
            "orient": "bottom", "title": null, "domain": false, "ticks": false, "grid": false,
            "values": [
              {"year":2008,"month":4,"date":21,"utc":true},{"year":2008,"month":5,"date":19,"utc":true},{"year":2008,"month":6,"date":16,"utc":true},{"year":2008,"month":7,"date":14,"utc":true},{"year":2008,"month":8,"date":11,"utc":true},{"year":2008,"month":9,"date":8,"utc":true},{"year":2008,"month":10,"date":6,"utc":true},{"year":2008,"month":11,"date":3,"utc":true},{"year":2008,"month":12,"date":1,"utc":true},{"year":2008,"month":12,"date":29,"utc":true},
              {"year":2009,"month":1,"date":26,"utc":true},{"year":2009,"month":2,"date":23,"utc":true},{"year":2009,"month":3,"date":23,"utc":true},{"year":2009,"month":4,"date":20,"utc":true},{"year":2009,"month":5,"date":18,"utc":true},{"year":2009,"month":6,"date":15,"utc":true},{"year":2009,"month":7,"date":13,"utc":true},{"year":2009,"month":8,"date":10,"utc":true},{"year":2009,"month":9,"date":7,"utc":true},{"year":2009,"month":10,"date":5,"utc":true},{"year":2009,"month":11,"date":2,"utc":true},{"year":2009,"month":11,"date":30,"utc":true},{"year":2009,"month":12,"date":28,"utc":true},
              {"year":2010,"month":1,"date":25,"utc":true},{"year":2010,"month":2,"date":22,"utc":true},{"year":2010,"month":3,"date":22,"utc":true},{"year":2010,"month":4,"date":19,"utc":true},{"year":2010,"month":5,"date":17,"utc":true},{"year":2010,"month":6,"date":14,"utc":true},{"year":2010,"month":7,"date":12,"utc":true},{"year":2010,"month":8,"date":9,"utc":true},{"year":2010,"month":9,"date":6,"utc":true},{"year":2010,"month":10,"date":4,"utc":true},{"year":2010,"month":11,"date":1,"utc":true},{"year":2010,"month":11,"date":29,"utc":true},{"year":2010,"month":12,"date":27,"utc":true},
              {"year":2011,"month":1,"date":24,"utc":true},{"year":2011,"month":2,"date":21,"utc":true},{"year":2011,"month":3,"date":20,"utc":true}
            ],
            "labelExpr": "utcFormat(datum.value, '%d')",
            "labelAlign": "left", "labelBaseline": "top", "labelPadding": 3,
            "labelFontSize": 14.5, "labelFontWeight": "bold", "labelColor": "#111111",
            "labelFont": "Liberation Sans",
            "labelFlush": false, "labelOverlap": false, "labelSeparation": -40, "labelBound": false
          }
        }
      }
    },
    {
      "data": {"name": "candles"},
      "mark": {"type": "point", "opacity": 0},
      "encoding": {
        "x": {
          "field": "d", "type": "temporal",
          "scale": {"type": "utc", "domain": [{"year":2008,"month":4,"date":14,"hours":12,"utc":true},{"year":2012,"month":1,"date":4,"hours":7,"utc":true}]},
          "axis": {
            "orient": "bottom", "offset": 22, "title": null, "domain": false, "ticks": false, "grid": false,
            "values": [
              {"year":2008,"month":5,"date":20,"utc":true},{"year":2008,"month":7,"date":20,"utc":true},{"year":2008,"month":8,"date":19,"utc":true},{"year":2008,"month":10,"date":14,"utc":true},{"year":2008,"month":11,"date":14,"utc":true},
              {"year":2009,"month":1,"date":23,"utc":true},{"year":2009,"month":3,"date":17,"utc":true},{"year":2009,"month":5,"date":18,"utc":true},{"year":2009,"month":7,"date":24,"utc":true},{"year":2009,"month":8,"date":22,"utc":true},{"year":2009,"month":10,"date":17,"utc":true},{"year":2009,"month":11,"date":15,"utc":true},
              {"year":2010,"month":1,"date":18,"utc":true},{"year":2010,"month":3,"date":15,"utc":true},{"year":2010,"month":5,"date":4,"utc":true},{"year":2010,"month":7,"date":10,"utc":true},{"year":2010,"month":9,"date":15,"utc":true},{"year":2010,"month":11,"date":15,"utc":true},
              {"year":2011,"month":1,"date":15,"utc":true},{"year":2011,"month":3,"date":12,"utc":true}
            ],
            "labelExpr": "utcFormat(datum.value, '%m') == '01' ? utcFormat(datum.value, '%Y') : utcFormat(datum.value, '%b')",
            "labelAlign": "center", "labelBaseline": "top", "labelPadding": 3,
            "labelFontSize": 14.5, "labelFontWeight": "bold", "labelColor": "#111111",
            "labelFont": "Liberation Sans",
            "labelFlush": false, "labelOverlap": false, "labelBound": false
          }
        }
      }
    }
  ]
}
